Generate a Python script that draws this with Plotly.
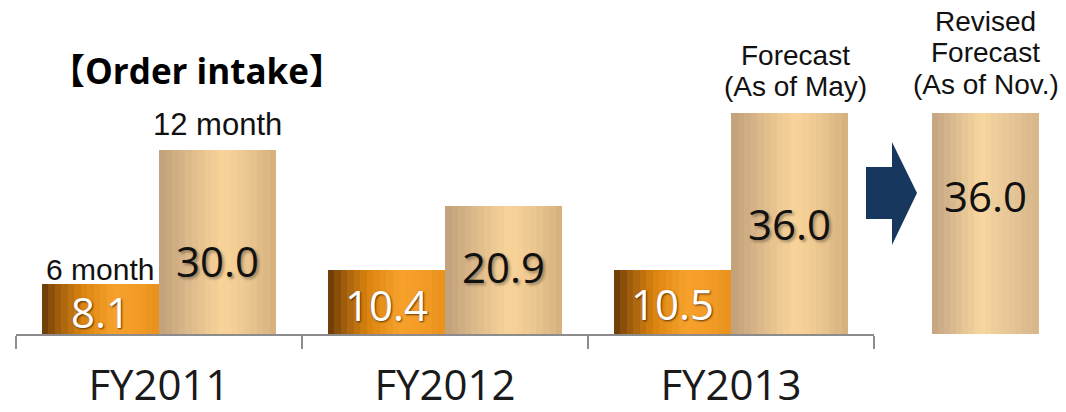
import plotly.graph_objects as go

# ---------------- data ----------------
categories = ["FY2011", "FY2012", "FY2013"]
six_month = [8.1, 10.4, 10.5]
twelve_month = [30.0, 20.9, 36.0]
revised_category = ["Revised"]
revised_value = [36.0]

title_text = "【Order intake】"
six_label = "6 month"
twelve_label = "12 month"
forecast_lines = ["Forecast", "(As of May)"]
revised_lines = ["Revised", "Forecast", "(As of Nov.)"]

# ---------------- style ----------------
W, H = 1066, 412
MB = 78                      # bottom margin -> plot bottom at y=334
PLOT_H = H - MB
FONT = "Open Sans, Noto Sans CJK JP, sans-serif"
SMALL_FONT = "Liberation Sans, Arial, sans-serif"

ORANGE_STOPS = [(0.0, "#673708"), (0.12, "#9a5a0c"), (0.35, "#db840f"),
                (0.62, "#f7a22c"), (0.85, "#f19a25"), (1.0, "#e98f1d")]
TAN_STOPS = [(0.0, "#c0a07a"), (0.25, "#dcb98a"), (0.55, "#fad59a"),
             (0.8, "#e7c28c"), (1.0, "#d4b07e")]
REV_STOPS = [(0.0, "#c2a482"), (0.45, "#f8d6a0"), (0.8, "#e2c294"), (1.0, "#d6b588")]
N_SLICES = 18
BAR_W = 0.41


def hex2rgb(h):
    h = h.lstrip("#")
    return tuple(int(h[i:i + 2], 16) for i in (0, 2, 4))


def grad(stops, t):
    for (t0, c0), (t1, c1) in zip(stops[:-1], stops[1:]):
        if t <= t1:
            f = 0 if t1 == t0 else (t - t0) / (t1 - t0)
            a, b = hex2rgb(c0), hex2rgb(c1)
            return "rgb(%d,%d,%d)" % tuple(round(a[k] + (b[k] - a[k]) * f) for k in range(3))
    return stops[-1][1]


def gradient_bar(x, y, start, width, stops, xaxis="x", n=N_SLICES):
    traces = []
    sw = width / n
    for i in range(n):
        t = (i + 0.5) / n
        traces.append(go.Bar(
            x=x, y=y, offset=start + i * sw, width=sw * 1.05 if i < n - 1 else sw,
            marker=dict(color=grad(stops, t), line=dict(width=0)),
            xaxis=xaxis, yaxis="y", showlegend=False, hoverinfo="skip"))
    return traces


fig = go.Figure()
for tr in gradient_bar(categories, six_month, -BAR_W, BAR_W, ORANGE_STOPS):
    fig.add_trace(tr)
for tr in gradient_bar(categories, twelve_month, 0.0, BAR_W, TAN_STOPS):
    fig.add_trace(tr)
for tr in gradient_bar(revised_category, revised_value, -0.5, 1.0, REV_STOPS, xaxis="x2"):
    fig.add_trace(tr)

px_per_unit = 6.133
y_max = PLOT_H / px_per_unit


def px_x(p):
    return p / W


def px_y(p):
    return (PLOT_H - p) / PLOT_H


annotations = []
label_shadow_w = "1px 1px 2px rgba(60,30,0,0.8)"
label_shadow_b = "2px 2px 3px rgba(0,0,0,0.35)"
for i, v in enumerate(six_month):
    annotations.append(dict(x=i - BAR_W / 2, y=v / 2, xref="x", yref="y", text="%.1f" % v,
                            showarrow=False, yshift=-2,
                            font=dict(family=FONT, size=42, color="white", shadow=label_shadow_w)))
tan_shift = [-18, 3, 0]
for i, v in enumerate(twelve_month):
    annotations.append(dict(x=i + BAR_W / 2, y=v / 2, xref="x", yref="y", text="%.1f" % v,
                            showarrow=False, yshift=tan_shift[i],
                            font=dict(family=FONT, size=42, color="#111111", shadow=label_shadow_b)))
annotations.append(dict(x=0, y=revised_value[0] / 2, xref="x2", yref="y",
                        text="%.1f" % revised_value[0], showarrow=False, yshift=28,
                        font=dict(family=FONT, size=42, color="#111111")))

# series labels
annotations.append(dict(x=-BAR_W / 2, y=six_month[0], xref="x", yref="y", text=six_label,
                        showarrow=False, yanchor="bottom", yshift=-4,
                        font=dict(family=SMALL_FONT, size=30, color="#111111")))
annotations.append(dict(x=BAR_W / 2, y=twelve_month[0], xref="x", yref="y", text=twelve_label,
                        showarrow=False, yanchor="bottom", yshift=6,
                        font=dict(family=SMALL_FONT, size=31, color="#111111")))
# forecast labels, one annotation per line for tight line spacing
for line, shift in zip(forecast_lines, [58, 26.5]):
    annotations.append(dict(x=2 + BAR_W / 2 + 0.02, y=twelve_month[2], xref="x", yref="y",
                            text=line, showarrow=False, yanchor="middle", yshift=shift,
                            font=dict(family=SMALL_FONT, size=28, color="#111111")))
for line, shift in zip(revised_lines, [92, 60.5, 29]):
    annotations.append(dict(x=0, y=revised_value[0], xref="x2", yref="y",
                            text=line, showarrow=False, yanchor="middle", yshift=shift,
                            font=dict(family=SMALL_FONT, size=28, color="#111111")))
# title
annotations.append(dict(x=px_x(48), y=px_y(71), xref="paper", yref="paper",
                        text="<b>" + title_text + "</b>",
                        showarrow=False, xanchor="left", yanchor="middle",
                        font=dict(family=FONT, size=35, color="#000000")))

# arrow shape (decorative)
arrow_pts = [(866, 167), (892, 167), (892, 142), (917, 193), (892, 245), (892, 219), (866, 219)]
path = "M " + " L ".join("%.5f,%.5f" % (px_x(a), px_y(b)) for a, b in arrow_pts) + " Z"

fig.update_layout(
    width=W, height=H,
    margin=dict(l=0, r=0, t=0, b=MB, pad=0, autoexpand=False),
    paper_bgcolor="white", plot_bgcolor="white",
    barmode="overlay", bargap=0,
    showlegend=False,
    xaxis=dict(domain=[16 / W, 874 / W], type="category", tickson="boundaries",
               range=[-0.5, len(categories) - 0.5],
               ticks="outside", ticklen=13, tickwidth=2, tickcolor="#8c8c8c",
               showline=True, linecolor="#8c8c8c", linewidth=2,
               showgrid=False, zeroline=False, automargin=False,
               tickfont=dict(family=FONT, size=42, color="#1a1a1a"),
               ticklabelstandoff=14, fixedrange=True),
    xaxis2=dict(domain=[932 / W, 1039 / W], type="category", anchor="y",
                range=[-0.5, 0.5],
                showticklabels=False, ticks="", showline=False, showgrid=False,
                zeroline=False, fixedrange=True, automargin=False),
    yaxis=dict(range=[0, y_max], visible=False, showgrid=False, zeroline=False,
               fixedrange=True, automargin=False),
    annotations=annotations,
    shapes=[dict(type="path", path=path, xref="paper", yref="paper",
                 fillcolor="#17375e", line=dict(width=0), layer="above")],
)

fig.write_html("out.html", config={"displayModeBar": False},
               post_script="document.body.style.margin='0';document.body.style.padding='0';")
